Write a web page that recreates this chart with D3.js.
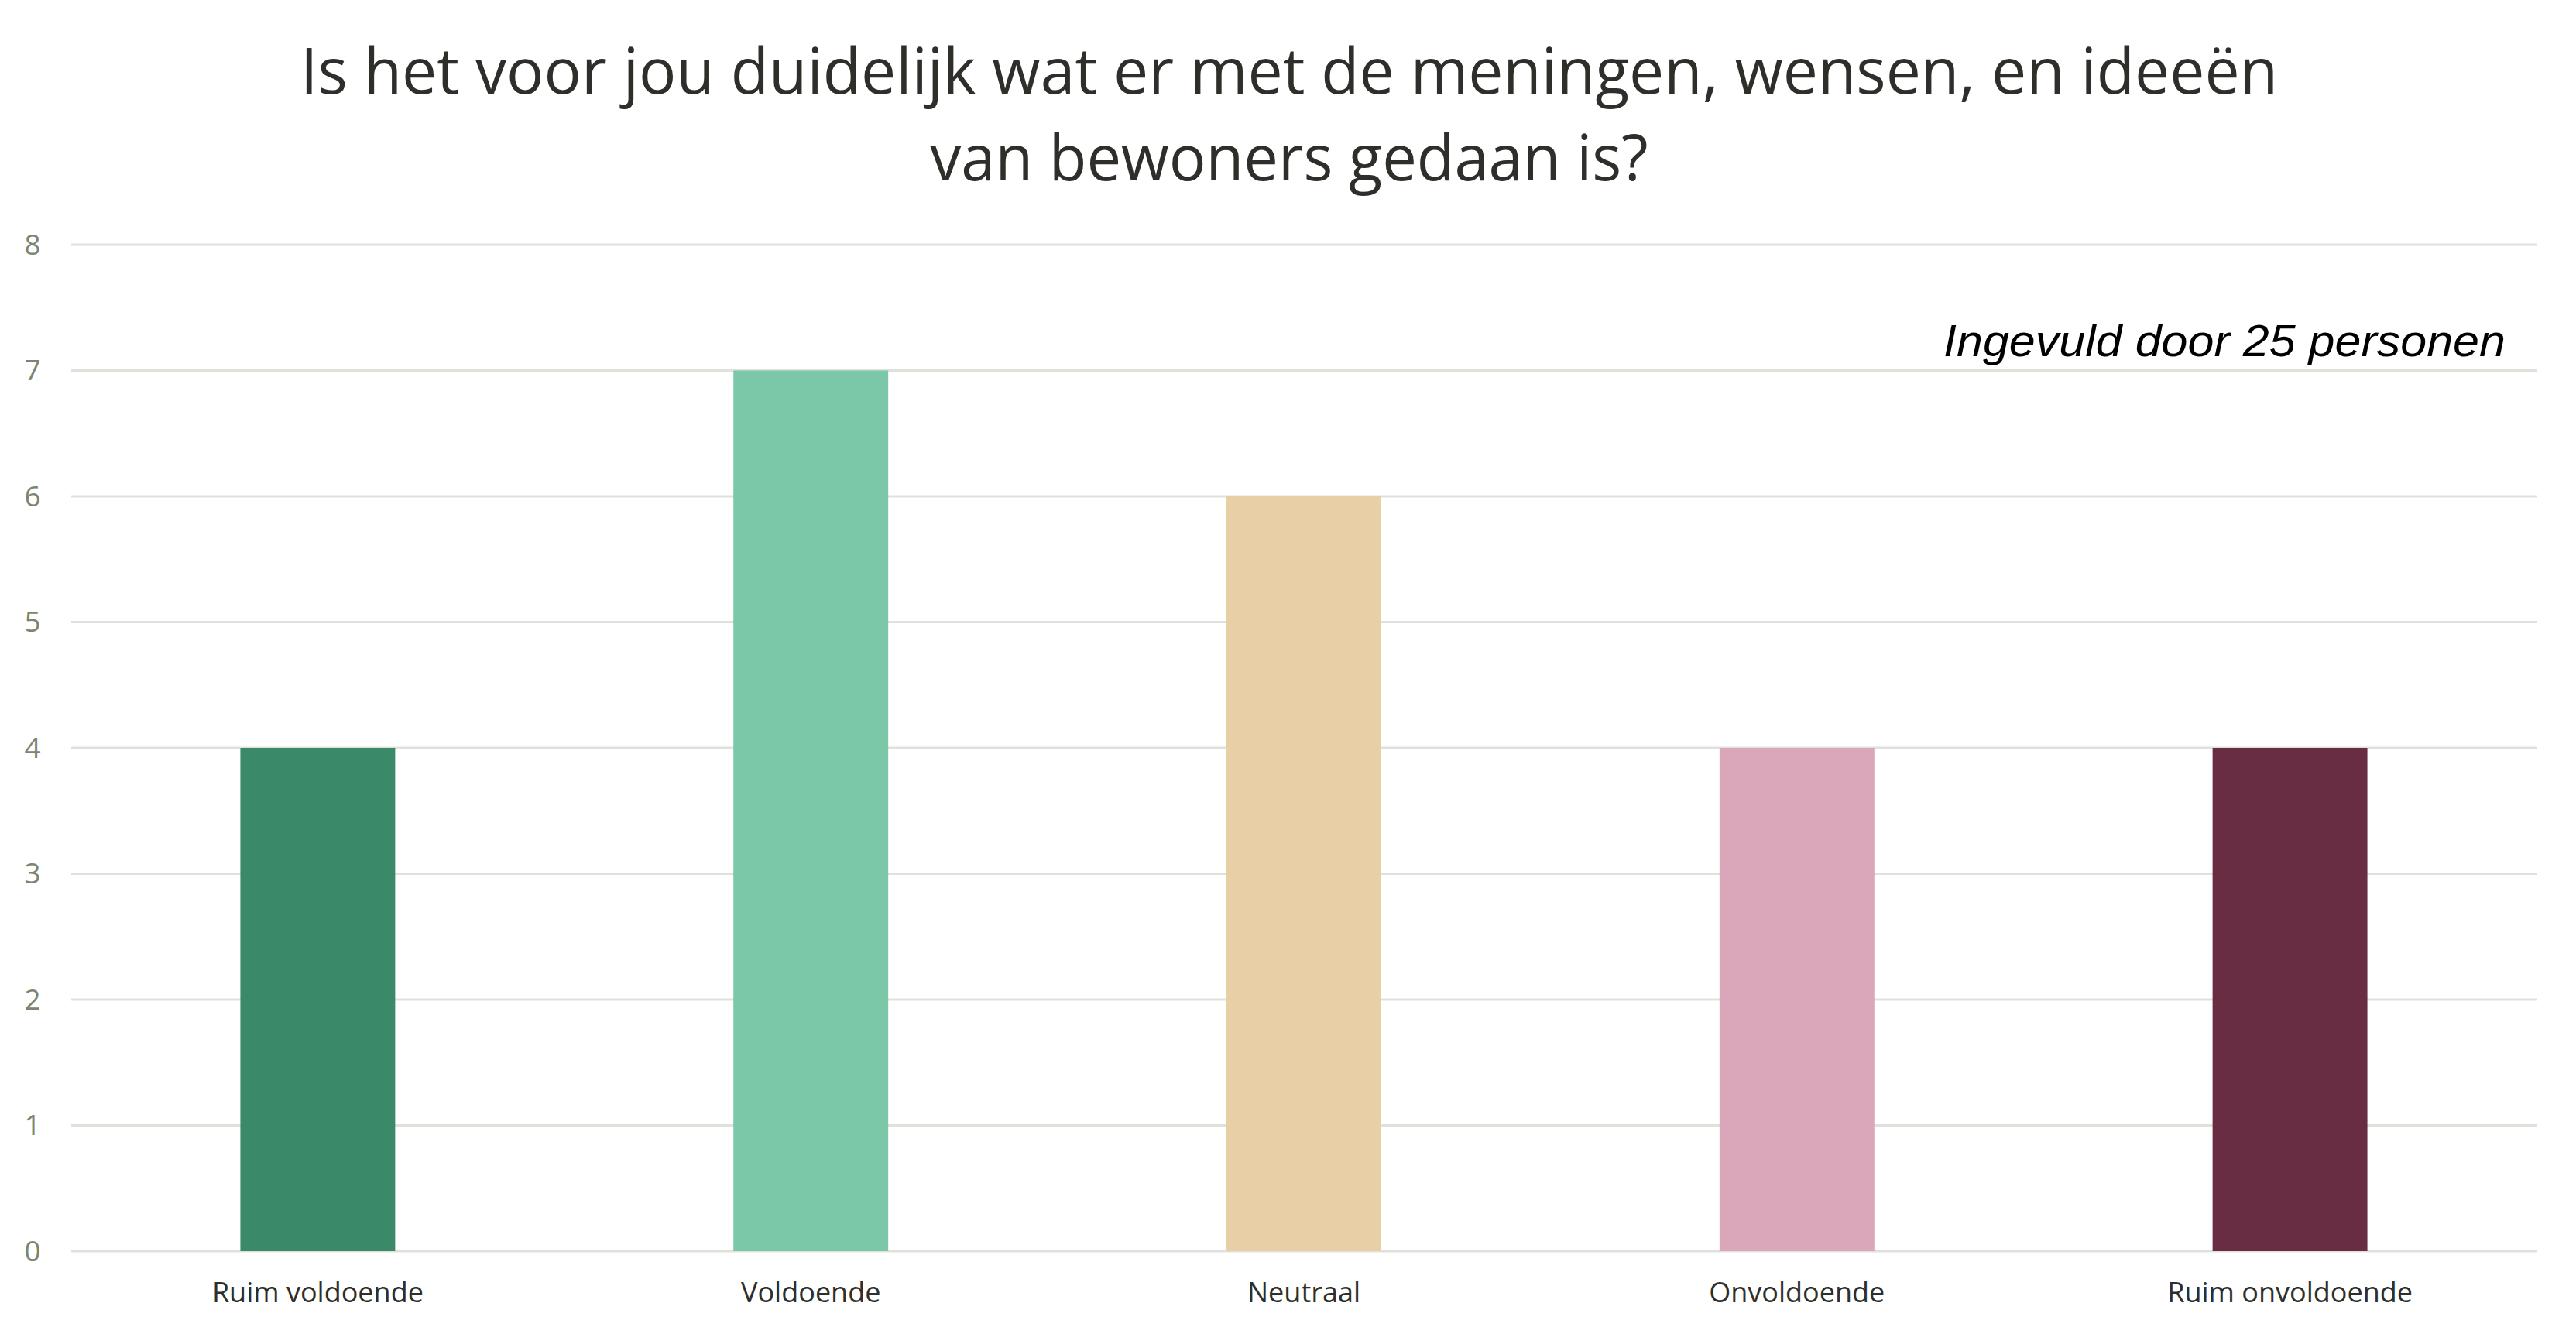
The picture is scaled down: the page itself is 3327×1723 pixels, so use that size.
<!DOCTYPE html>
<html>
<head>
<meta charset="utf-8">
<script src="https://cdn.jsdelivr.net/npm/d3@7"></script>
<style>
  html, body { margin: 0; padding: 0; background: #ffffff; }
  svg { display: block; }
</style>
</head>
<body>
<div id="chart"></div>
<script>
const categories = ['Ruim voldoende', 'Voldoende', 'Neutraal', 'Onvoldoende', 'Ruim onvoldoende'];
const counts = [4, 7, 6, 4, 4];
const barColors = ['#3a8a6a', '#7ac8a8', '#e8cfa5', '#d9a7b9', '#682d43'];
const yTicks = [0, 1, 2, 3, 4, 5, 6, 7, 8];
const titleLines = ['Is het voor jou duidelijk wat er met de meningen, wensen, en ideeën', 'van bewoners gedaan is?'];
const note = 'Ingevuld door 25 personen';

const width = 3327;
const height = 1723;
const margin = { top: 316, right: 51, bottom: 107, left: 92 };
const innerWidth = width - margin.left - margin.right;
const innerHeight = height - margin.top - margin.bottom;

const svg = d3.select('#chart')
  .append('svg')
  .attr('width', width)
  .attr('height', height);

// title, two centred lines
const titleWidths = [2554, 927];
svg.append('g')
  .selectAll('text')
  .data(titleLines)
  .join('text')
  .attr('x', 1665)
  .attr('y', (d, i) => 121 + i * 112)
  .attr('text-anchor', 'middle')
  .attr('textLength', (d, i) => titleWidths[i])
  .attr('lengthAdjust', 'spacingAndGlyphs')
  .style('font-family', '"Open Sans", sans-serif')
  .style('font-size', '82px')
  .style('fill', '#2e2f2a')
  .text(d => d);

const plot = svg.append('g')
  .attr('transform', `translate(${margin.left},${margin.top})`);

const x = d3.scaleBand()
  .domain(categories)
  .range([0, innerWidth])
  .paddingInner(0.686)
  .paddingOuter(0.343);

const y = d3.scaleLinear()
  .domain([0, 8])
  .range([innerHeight, 0]);

// gridlines
plot.append('g')
  .selectAll('line')
  .data(yTicks)
  .join('line')
  .attr('x1', 0)
  .attr('x2', innerWidth)
  .attr('y1', d => y(d))
  .attr('y2', d => y(d))
  .attr('stroke', '#e1e1dc')
  .attr('stroke-width', 3);

// y labels
plot.append('g')
  .selectAll('text')
  .data(yTicks)
  .join('text')
  .attr('x', -50)
  .attr('y', d => y(d))
  .attr('dy', '0.35em')
  .attr('text-anchor', 'middle')
  .style('font-family', '"Open Sans", sans-serif')
  .style('font-size', '37px')
  .style('fill', '#7b8670')
  .text(d => d);

// bars
plot.append('g')
  .selectAll('rect')
  .data(categories)
  .join('rect')
  .attr('x', d => x(d))
  .attr('width', x.bandwidth())
  .attr('y', (d, i) => y(counts[i]))
  .attr('height', (d, i) => innerHeight - y(counts[i]))
  .attr('fill', (d, i) => barColors[i]);

// category labels
const xAxis = plot.append('g')
  .attr('transform', `translate(0,${innerHeight})`)
  .call(d3.axisBottom(x).tickSize(0).tickPadding(40));
xAxis.select('.domain').remove();
xAxis.selectAll('.tick text')
  .style('font-family', '"Open Sans", sans-serif')
  .style('font-size', '36px')
  .style('fill', '#2e2f2a');

// note in the top right
svg.append('text')
  .attr('x', 3236)
  .attr('y', 460)
  .attr('text-anchor', 'end')
  .attr('textLength', 726)
  .attr('lengthAdjust', 'spacingAndGlyphs')
  .style('font-family', '"Liberation Sans", Arial, sans-serif')
  .style('font-style', 'italic')
  .style('font-size', '58px')
  .style('fill', '#000000')
  .text(note);
</script>
</body>
</html>
